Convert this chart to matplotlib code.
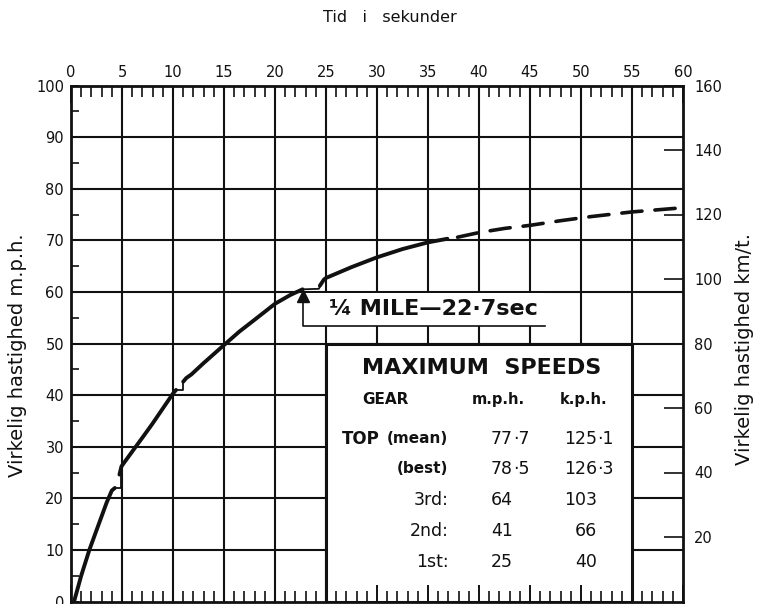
import numpy as np
import matplotlib
matplotlib.use("Agg")
import matplotlib.pyplot as plt
from matplotlib.patches import Rectangle

# ---------------- data ----------------
x_major = list(range(0, 61, 5))          # seconds
x_minor = list(range(0, 61, 1))
y_major = list(range(0, 101, 10))        # m.p.h.
y_minor = list(range(5, 100, 10))
kmh_ticks = list(range(20, 161, 20))     # km/t.

# acceleration curve, one run per gear (seconds, m.p.h.)
g1_t = [0.3, 1.0, 1.8, 2.5, 3.0, 3.5, 4.0, 4.3]
g1_v = [0.0, 5.0, 10.0, 13.8, 16.5, 19.2, 21.5, 22.0]
g2_t = [4.75, 4.95, 5.5, 6.35, 7.2, 8.0, 9.0, 10.0, 10.3]
g2_v = [24.6, 26.2, 27.7, 30.0, 32.3, 34.5, 37.4, 40.3, 41.0]
g3_t = [11.0, 11.3, 11.8, 13.0, 15.0, 16.5, 18.0, 20.0, 21.5, 22.7]
g3_v = [42.6, 43.3, 44.0, 46.2, 49.7, 52.3, 54.6, 57.7, 59.4, 60.5]
g4_t = [24.4, 24.8, 25.0, 27.5, 30.0, 32.5, 35.0, 36.9]
g4_v = [61.2, 62.4, 62.7, 64.8, 66.7, 68.3, 69.6, 70.3]
# gear changes (thin)
sh_t = [[4.2, 4.95, 4.95], [10.3, 11.0, 11.0], [22.7, 24.3, 24.5]]
sh_v = [[22.0, 22.0, 24.4], [41.0, 41.0, 42.7], [60.5, 60.6, 61.4]]
# extrapolated top gear (dashed)
top_t = [37.9, 40.0, 42.5, 45.0, 48.0, 51.0, 55.0, 59.3]
top_v = [70.6, 71.5, 72.3, 72.9, 73.8, 74.6, 75.5, 76.2]

quarter_mile_t = 22.7
quarter_mile_v = 60.5

gears = ["TOP", "", "3rd:", "2nd:", "1st:"]
gear_notes = ["(mean)", "(best)", "", "", ""]
mph_int = ["77", "78", "64", "41", "25"]
mph_dec = ["·7", "·5", "", "", ""]
kph_int = ["125", "126", "103", "66", "40"]
kph_dec = ["·1", "·3", "", "", ""]

# ---------------- figure ----------------
fig = plt.figure(figsize=(7.62, 6.04), dpi=100)
ax = fig.add_axes([71 / 762, 2.5 / 604, 612 / 762, 516 / 604])
ax.set_xlim(0, 60)
ax.set_ylim(0, 100)
K = "#111111"

# grid
ax.vlines(x_major[1:-1], 0, 100, colors=K, lw=1.5, zorder=1)
ax.hlines(y_major[1:-1], 0, 60, colors=K, lw=1.5, zorder=1)

for s in ax.spines.values():
    s.set_linewidth(2.0)
    s.set_color(K)
    s.set_zorder(4)

ax.set_axisbelow(False)
ax.set_xticks(x_major)
ax.set_xticks(x_minor, minor=True)
ax.set_yticks(y_major)
ax.set_yticks(y_minor, minor=True)
ax.tick_params(axis="x", which="both", direction="in", top=True, bottom=True,
               labeltop=True, labelbottom=False, colors=K)
ax.tick_params(axis="x", which="major", length=12, width=1.4, pad=4, labelsize=10.5)
ax.tick_params(axis="x", which="minor", length=8, width=1.2)
ax.tick_params(axis="y", which="both", direction="in", left=True, right=False, colors=K)
ax.tick_params(axis="y", which="major", length=6, width=1.4, pad=5, labelsize=10.5)
ax.tick_params(axis="y", which="minor", length=6, width=1.2)

ax2 = ax.twinx()
ax2.set_ylim(0, 160)
ax2.set_yticks(kmh_ticks)
ax2.tick_params(axis="y", direction="in", length=14, width=1.2, pad=8,
                labelsize=10.5, colors=K)
for s in ax2.spines.values():
    s.set_visible(False)

# curve
for t, v in [(g1_t, g1_v), (g2_t, g2_v), (g3_t, g3_v), (g4_t, g4_v)]:
    ax.plot(t, v, color=K, lw=2.8, solid_capstyle="round", zorder=3)
for t, v in zip(sh_t, sh_v):
    ax.plot(t, v, color=K, lw=1.3, zorder=3)
ax.plot(top_t, top_v, color=K, lw=2.6, linestyle=(0, (5.6, 3.6)),
        dash_capstyle="round", zorder=3)

# quarter mile callout
ax.add_patch(Rectangle((quarter_mile_t, 53.4), 46.5 - quarter_mile_t, 6.3,
                       facecolor="white", edgecolor="none", zorder=1.2))
ax.plot([quarter_mile_t, quarter_mile_t, 46.5], [59.0, 53.4, 53.4],
        color=K, lw=1.2, zorder=3)
ax.plot([quarter_mile_t], [quarter_mile_v - 1.3], marker="^", ms=9, color=K, zorder=3)
ax.text(25.3, 56.6, "¼ MILE—22·7sec", ha="left", va="center",
        fontsize=16, fontweight="bold", color=K, zorder=3)

# maximum speeds table
ax.add_patch(Rectangle((25.0, 0), 30.0, 50.0, facecolor="white",
                       edgecolor=K, lw=2.2, zorder=1.2))
ax.text(40.3, 45.3, "MAXIMUM  SPEEDS", ha="center", va="center",
        fontsize=16, fontweight="bold", color=K, zorder=3)
ax.text(28.6, 39.1, "GEAR", ha="left", va="center", fontsize=11,
        fontweight="bold", color=K, zorder=3)
ax.text(41.9, 39.1, "m.p.h.", ha="center", va="center", fontsize=10.5,
        fontweight="bold", color=K, zorder=3)
ax.text(50.3, 39.1, "k.p.h.", ha="center", va="center", fontsize=10.5,
        fontweight="bold", color=K, zorder=3)

row_y = [31.5, 25.7, 19.7, 13.7, 7.7]
for i, y in enumerate(row_y):
    if gear_notes[i]:
        ax.text(37.0, y, gear_notes[i], ha="right", va="center", fontsize=11,
                fontweight="bold", color=K, zorder=3)
        if gears[i]:
            ax.text(26.6, y, gears[i], ha="left", va="center", fontsize=12,
                    fontweight="bold", color=K, zorder=3)
    else:
        ax.text(37.0, y, gears[i], ha="right", va="center", fontsize=12.5,
                color=K, zorder=3)
    ax.text(43.3, y, mph_int[i], ha="right", va="center", fontsize=12.5, color=K, zorder=3)
    ax.text(43.3, y, mph_dec[i], ha="left", va="center", fontsize=12.5, color=K, zorder=3)
    ax.text(51.6, y, kph_int[i], ha="right", va="center", fontsize=12.5, color=K, zorder=3)
    ax.text(51.6, y, kph_dec[i], ha="left", va="center", fontsize=12.5, color=K, zorder=3)

# axis titles
fig.text(390 / 762, 1 - 18 / 604, "Tid   i   sekunder", ha="center", va="center",
         fontsize=11.5, color=K)
ax.text(-0.088, 0.477, "Virkelig hastighed m.p.h.", transform=ax.transAxes,
        rotation=90, ha="center", va="center", fontsize=14, color=K)
ax.text(1.101, 0.49, "Virkelig hastighed km/t.", transform=ax.transAxes,
        rotation=90, ha="center", va="center", fontsize=14, color=K)

fig.savefig("out.png", dpi=100, facecolor="white")
